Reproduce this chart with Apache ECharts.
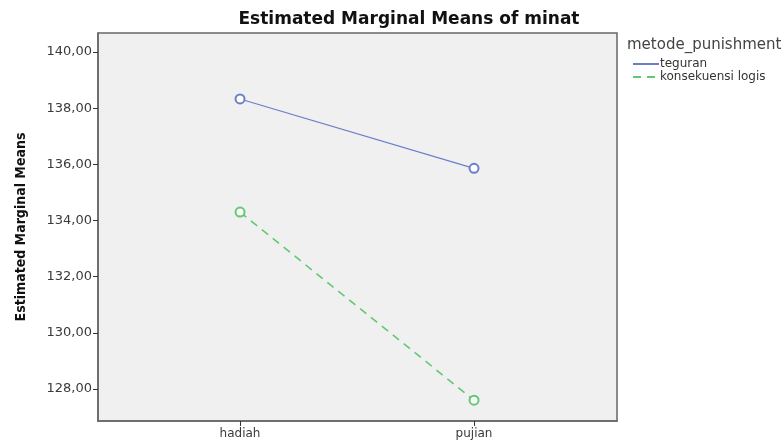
<!DOCTYPE html>
<html>
<head>
<meta charset="utf-8">
<script src="https://cdn.jsdelivr.net/npm/echarts@6/dist/echarts.min.js"></script>
<style>html,body{margin:0;padding:0;background:#fff}#c{width:784px;height:441px}</style>
</head>
<body>
<div id="c"></div>
<script>
var categories = ['hadiah', 'pujian'];
var seriesNames = ['teguran', 'konsekuensi logis'];
var teguranValues = [138.33, 135.86];
var konsekuensiValues = [134.30, 127.60];
var yTicks = [128, 130, 132, 134, 136, 138, 140];

var chart = echarts.init(document.getElementById('c'), null, {renderer: 'canvas'});
function pts(vals) { return vals.map(function (v, i) { return [i, v]; }); }
var catIdx = categories.map(function (c, i) { return i; });

chart.setOption({
  animation: false,
  backgroundColor: '#ffffff',
  graphic: [
    {type: 'text', x: 409, y: 20, style: {text: 'Estimated Marginal Means of minat', font: 'bold 17px "DejaVu Sans"', fill: '#111', align: 'center', verticalAlign: 'middle', textAlign: 'center', textVerticalAlign: 'middle'}},
    {type: 'text', x: 627, y: 45, style: {text: 'metode_punishment', font: '15px "DejaVu Sans"', fill: '#444', align: 'left', verticalAlign: 'middle', textAlign: 'left', textVerticalAlign: 'middle'}}
  ],
  grid: {left: 98, right: 167, top: 33, bottom: 20, show: true, backgroundColor: '#f0f0f0', borderColor: '#666', borderWidth: 1.5},
  legend: {
    orient: 'vertical', left: 632, top: 58, padding: 0, itemWidth: 26, itemHeight: 4, itemGap: 1,
    itemStyle: {opacity: 0},
    textStyle: {fontFamily: 'DejaVu Sans', fontSize: 12, color: '#333', padding: [0, 0, 0, -4]},
    data: seriesNames
  },
  xAxis: {
    type: 'value', min: -0.607, max: 1.611,
    axisLine: {show: true, onZero: false, lineStyle: {color: '#666', width: 1.5}},
    axisTick: {show: true, customValues: catIdx, length: 5, lineStyle: {color: '#333'}},
    axisLabel: {customValues: catIdx, formatter: function (v) { return categories[Math.round(v)]; }, fontFamily: 'DejaVu Sans', fontSize: 12, color: '#3a3a3a', margin: 7},
    splitLine: {show: false}
  },
  yAxis: {
    type: 'value', min: 126.86, max: 140.68,
    name: 'Estimated Marginal Means', nameLocation: 'middle', nameRotate: 90, nameGap: 70,
    nameTextStyle: {fontFamily: '"Liberation Sans Narrow", "DejaVu Sans Condensed", "Arial Narrow", "Liberation Sans", sans-serif', fontWeight: 'bold', fontSize: 14, color: '#111'},
    axisLine: {show: true, onZero: false, lineStyle: {color: '#666', width: 1.5}},
    axisTick: {show: true, customValues: yTicks, length: 5, lineStyle: {color: '#333'}},
    axisLabel: {customValues: yTicks, formatter: function (v) { return v.toFixed(2).replace('.', ','); }, fontFamily: 'DejaVu Sans', fontSize: 13, color: '#3a3a3a', margin: 6},
    splitLine: {show: false}
  },
  series: [
    {name: seriesNames[0], type: 'line', data: pts(teguranValues), symbol: 'emptyCircle', symbolSize: 9,
     lineStyle: {color: '#6b7fc9', width: 1.2}, itemStyle: {color: '#6b7fc9', borderWidth: 1.3}},
    {name: seriesNames[1], type: 'line', data: pts(konsekuensiValues), symbol: 'emptyCircle', symbolSize: 9,
     lineStyle: {color: '#62c872', width: 1.6, type: [8, 6]}, itemStyle: {color: '#62c872', borderWidth: 1.3}}
  ]
});
</script>
</body>
</html>
